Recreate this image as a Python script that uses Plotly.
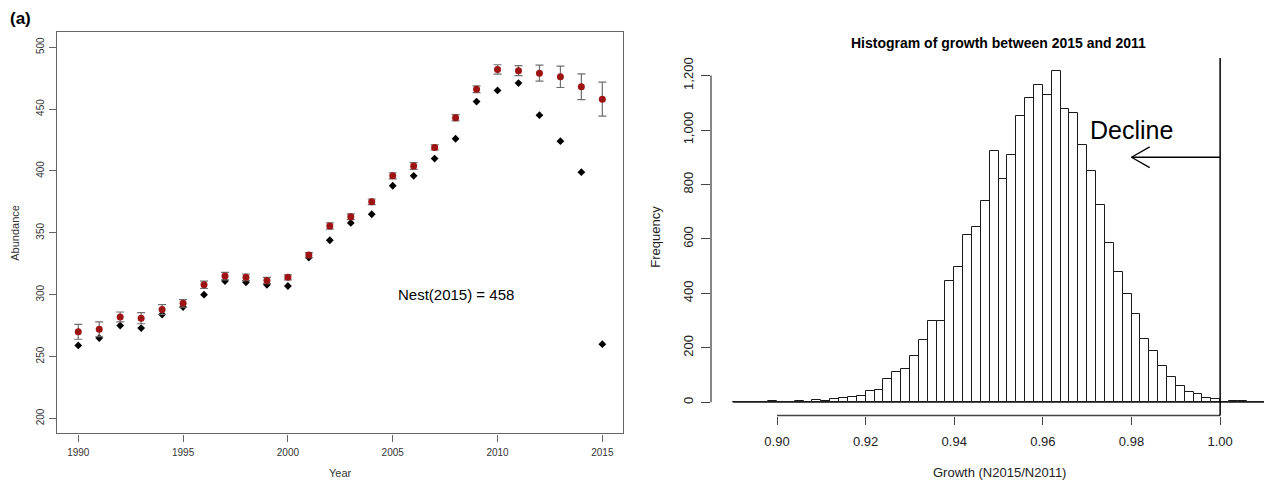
import plotly.graph_objects as go

# ---------------- Data: panel (a) left ----------------
YEARS = list(range(1990, 2016))
EST_ABUNDANCE = [270, 272, 282, 281, 288, 293, 308, 315, 314, 311.5, 314, 332, 355.5,
                 363, 375, 396, 404, 419, 443, 466, 482, 481, 479, 476, 468, 458]
EST_ERROR = [6, 6, 4, 4.5, 4, 3, 3, 3, 2.7, 2.5, 2, 2, 2.5,
             2.3, 2.3, 2.5, 2.7, 2, 2.5, 2.7, 3.8, 4, 6.5, 8.6, 10.4, 13.7]
COUNT_ABUNDANCE = [259, 265, 275, 273, 284, 290, 300, 311, 310, 308, 307, 330, 344,
                   358, 365, 388, 396, 410, 426, 456, 465, 471, 445, 424, 399, 260]
LEFT_XTICKS = [1990, 1995, 2000, 2005, 2010, 2015]
LEFT_YTICKS = [200, 250, 300, 350, 400, 450, 500]
NEST_LABEL = "Nest(2015) = 458"
NEST_LABEL_POS = (2008, 300)

# ---------------- Data: histogram (right) ----------------
BIN_START = 0.890
BIN_WIDTH = 0.002
HIST_COUNTS = [1, 1, 1, 0, 5, 1, 1, 5, 1, 7, 6, 11, 16, 21, 24,
               42, 45, 87, 110, 121, 171, 229, 300, 297, 447,
               496, 615, 644, 740, 924, 819, 907, 1052, 1118, 1164,
               1130, 1216, 1077, 1062, 944, 850, 725, 586, 480, 399,
               323, 233, 189, 135, 92, 60, 38, 32, 17, 12,
               0, 6, 3, 1, 1, 1]
RIGHT_XTICKS = [0.90, 0.92, 0.94, 0.96, 0.98, 1.00]
RIGHT_XTICKTEXT = ["0.90", "0.92", "0.94", "0.96", "0.98", "1.00"]
RIGHT_YTICKS = [0, 200, 400, 600, 800, 1000, 1200]
THRESHOLD = 1.00
ARROW_TIP = (0.98, 900)
DECLINE_POS = (0.98, 1000)

bin_centers = [round(BIN_START + BIN_WIDTH * (i + 0.5), 4) for i in range(len(HIST_COUNTS))]

W, H = 1264, 481
FONT = "Liberation Sans, Arial, Helvetica, sans-serif"
AXC = "#666666"

fig = go.Figure()

# left panel traces
fig.add_trace(go.Scatter(
    x=YEARS, y=COUNT_ABUNDANCE, mode="markers",
    marker=dict(symbol="diamond", size=6, color="black"),
    xaxis="x", yaxis="y", showlegend=False, hoverinfo="skip"))
fig.add_trace(go.Scatter(
    x=YEARS, y=EST_ABUNDANCE, mode="markers",
    marker=dict(symbol="circle", size=7, color="#9e1414"),
    error_y=dict(type="data", array=EST_ERROR, visible=True,
                 color="#6f6f6f", thickness=1.2, width=4),
    xaxis="x", yaxis="y", showlegend=False, hoverinfo="skip"))

# right panel histogram
fig.add_trace(go.Bar(
    x=bin_centers, y=HIST_COUNTS, width=BIN_WIDTH,
    marker=dict(color="white", line=dict(color="#1a1a1a", width=1)),
    xaxis="x2", yaxis="y2", showlegend=False, hoverinfo="skip"))

# domains in pixels
lx0, lx1, ly_top, ly_bot = 57.3, 623.3, 32.3, 433.3
rx0, ry_top, ry_bot = 711.0, 58.0, 415.5

tickfont_l = dict(family=FONT, size=10, color="#333333")
tickfont_r = dict(family=FONT, size=13, color="#222222")

fig.update_layout(
    width=W, height=H,
    margin=dict(l=0, r=0, t=0, b=0),
    paper_bgcolor="white", plot_bgcolor="white",
    bargap=0,
    xaxis=dict(domain=[lx0 / W, lx1 / W], range=[1989, 2016], anchor="y",
               tickvals=LEFT_XTICKS, ticks="outside", ticklen=7, tickcolor=AXC,
               showline=True, mirror=True, linecolor=AXC, linewidth=1.4,
               showgrid=False, zeroline=False, tickfont=tickfont_l,
               ticklabelstandoff=2),
    yaxis=dict(domain=[1 - ly_bot / H, 1 - ly_top / H], range=[188, 512], anchor="x",
               tickvals=LEFT_YTICKS, ticks="outside", ticklen=7, tickcolor=AXC,
               showline=True, mirror=True, linecolor=AXC, linewidth=1.4,
               showgrid=False, zeroline=False, tickfont=tickfont_l, tickangle=-90,
               ticklabelstandoff=1),
    xaxis2=dict(domain=[rx0 / W, 1.0], range=[0.8851, 1.0099], anchor="y2",
                tickvals=RIGHT_XTICKS, ticktext=RIGHT_XTICKTEXT,
                ticks="outside", ticklen=8, tickcolor="#444444",
                showline=False, showgrid=False, zeroline=False,
                tickfont=tickfont_r, ticklabelstandoff=6),
    yaxis2=dict(domain=[1 - ry_bot / H, 1 - ry_top / H], range=[-48.6, 1264.6], anchor="x2",
                tickvals=RIGHT_YTICKS, tickformat=",d",
                ticks="outside", ticklen=9, tickcolor="#444444",
                showline=False, showgrid=False, zeroline=False,
                tickfont=tickfont_r, tickangle=-90, ticklabelstandoff=3),
)

shapes = []
# right panel axis lines (R-style, spanning tick range)
shapes.append(dict(type="line", xref="x2 domain", yref="y2", x0=0, x1=0,
                   y0=RIGHT_YTICKS[0], y1=RIGHT_YTICKS[-1], line=dict(color="#444444", width=1.3)))
shapes.append(dict(type="line", xref="x2", yref="y2 domain", x0=RIGHT_XTICKS[0], x1=RIGHT_XTICKS[-1],
                   y0=0, y1=0, line=dict(color="#444444", width=1.3)))
# histogram baseline
shapes.append(dict(type="line", xref="x2", yref="y2", x0=BIN_START, x1=1.02, y0=0, y1=0,
                   line=dict(color="#1a1a1a", width=1)))
# threshold line
shapes.append(dict(type="line", xref="x2", yref="y2 domain", x0=THRESHOLD, x1=THRESHOLD,
                   y0=0, y1=1, line=dict(color="black", width=1.5)))
# arrow shaft and open head
ax_, ay_ = ARROW_TIP
shapes.append(dict(type="line", xref="x2", yref="y2", x0=THRESHOLD, x1=ax_, y0=ay_, y1=ay_,
                   line=dict(color="black", width=1.3)))
for sgn in (1, -1):
    shapes.append(dict(type="line", xref="x2", yref="y2", x0=ax_, x1=ax_ + 0.0041,
                       y0=ay_, y1=ay_ + sgn * 38, line=dict(color="black", width=1.3)))
fig.update_layout(shapes=shapes)

ann = []
ann.append(dict(text="<b>(a)</b>", xref="paper", yref="paper", x=8 / W, y=1 - 18 / H,
                xanchor="left", yanchor="middle", showarrow=False,
                font=dict(family=FONT, size=17, color="black")))
ann.append(dict(text="Year", xref="paper", yref="paper", x=(lx0 + lx1) / 2 / W, y=1 - 473 / H,
                xanchor="center", yanchor="middle", showarrow=False,
                font=dict(family=FONT, size=11, color="#333333")))
ann.append(dict(text="Abundance", xref="paper", yref="paper", x=15 / W, y=1 - 232.8 / H,
                xanchor="center", yanchor="middle", showarrow=False, textangle=-90,
                font=dict(family=FONT, size=11, color="#333333")))
ann.append(dict(text=NEST_LABEL, xref="x", yref="y", x=NEST_LABEL_POS[0], y=NEST_LABEL_POS[1],
                xanchor="center", yanchor="middle", showarrow=False,
                font=dict(family=FONT, size=15, color="black")))
ann.append(dict(text="<b>Histogram of growth between 2015 and 2011</b>", xref="paper", yref="paper",
                x=998 / W, y=1 - 43 / H, xanchor="center", yanchor="middle", showarrow=False,
                font=dict(family=FONT, size=14, color="black")))
ann.append(dict(text="Growth (N2015/N2011)", xref="paper", yref="paper", x=999 / W, y=1 - 472 / H,
                xanchor="center", yanchor="middle", showarrow=False,
                font=dict(family=FONT, size=13, color="#222222")))
ann.append(dict(text="Frequency", xref="paper", yref="paper", x=656 / W, y=1 - 236.7 / H,
                xanchor="center", yanchor="middle", showarrow=False, textangle=-90,
                font=dict(family=FONT, size=13, color="#222222")))
ann.append(dict(text="Decline", xref="x2", yref="y2", x=DECLINE_POS[0], y=DECLINE_POS[1],
                xanchor="center", yanchor="middle", showarrow=False,
                font=dict(family=FONT, size=25, color="black")))
fig.update_layout(annotations=ann)

fig.write_html("out.html",
               config={"displayModeBar": False},
               post_script="document.body.style.margin='0';document.body.style.overflow='hidden';")
